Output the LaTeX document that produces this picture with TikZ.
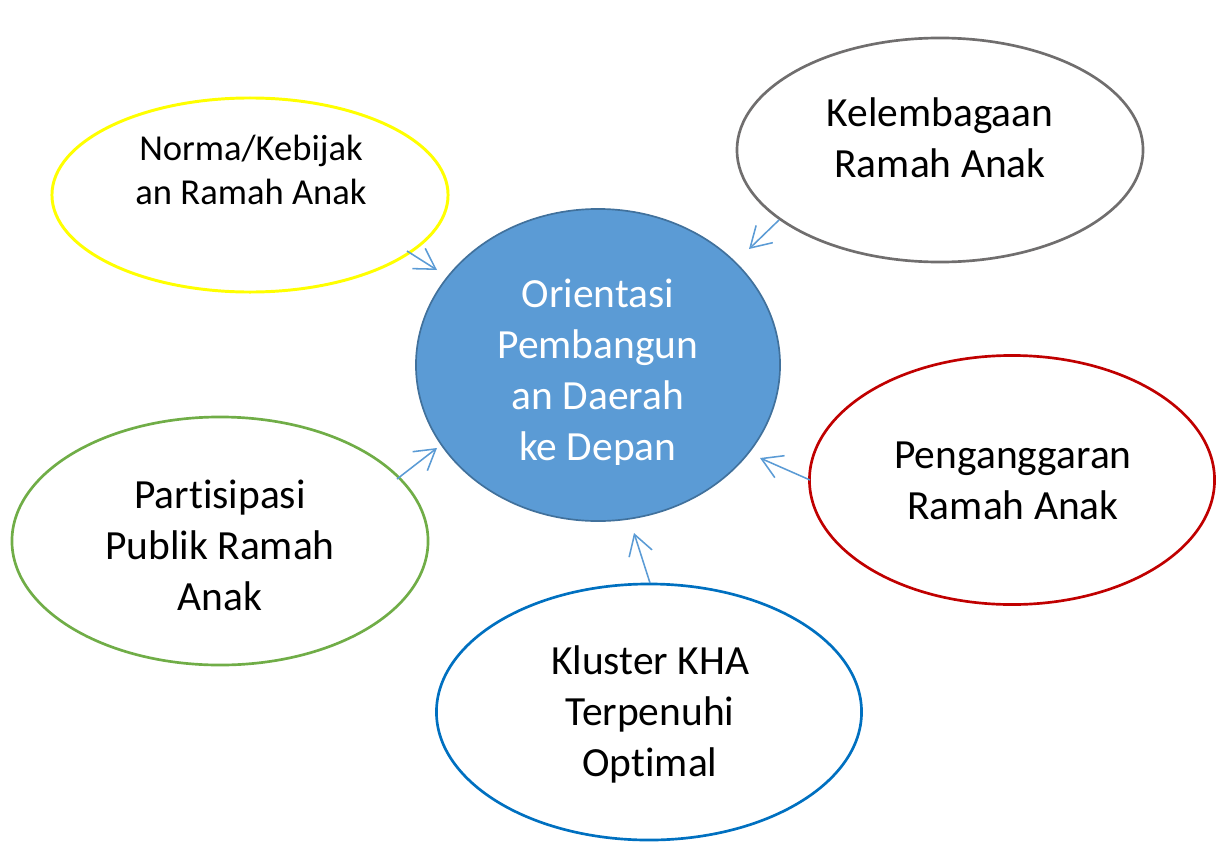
\documentclass[tikz,border=0pt]{standalone}
\usepackage{fontspec}
\setmainfont{Carlito}[Ligatures=NoCommon]
\usetikzlibrary{shapes.geometric,arrows.meta}

\definecolor{centrefill}{HTML}{5B9BD5}
\definecolor{centreline}{HTML}{41719C}
\definecolor{arrowblue}{HTML}{5B9BD5}
\definecolor{normayellow}{HTML}{FFFF00}
\definecolor{lembagagray}{HTML}{706E6E}
\definecolor{anggaranred}{HTML}{C00000}
\definecolor{publikgreen}{HTML}{70AD47}
\definecolor{klusterblue}{HTML}{0070C0}

\tikzset{
  bubble/.style={ellipse, draw, line width=1.9pt, inner sep=0pt},
  bubbletext/.style={align=center, font=\fontsize{29.5}{36.3}\selectfont},
  arrowline/.style={draw=arrowblue, line width=1.1pt,
    -{Straight Barb[length=5mm,width=6mm]}}
}

\begin{document}
\begin{tikzpicture}[x=0.025cm, y=-0.025cm]
% Page frame (pixel grid of the reference)
\useasboundingbox (0,0) rectangle (1227,841);
\clip (0,0) rectangle (1227,841);

% Centre bubble
\node[ellipse, draw=centreline, fill=centrefill, line width=1.2pt, inner sep=0pt,
  minimum width=9.1cm, minimum height=7.8cm] (orientasi) at (598,365) {};
\begin{scope}
\clip (420,260) rectangle (780,464);
\node[bubbletext, text=white] (orientasitext) at (598,373)
  {Orientasi\\Pembangun\\an Daerah\\ke Depan};
\end{scope}

% Outer bubbles
\node[bubble, draw=normayellow, line width=2.1pt,
  minimum width=9.9cm, minimum height=4.85cm] (norma) at (250,195) {};
\node[bubbletext, font=\fontsize{26}{31.3}\selectfont] (normatext) at (251,170)
  {Norma/Kebijak\\an Ramah Anak};

\node[bubble, draw=lembagagray,
  minimum width=10.15cm, minimum height=5.6cm] (lembaga) at (940,150) {};
\node[bubbletext] (lembagatext) at (940,138) {Kelembagaan\\Ramah Anak};

\node[bubble, draw=anggaranred,
  minimum width=10.125cm, minimum height=6.225cm] (anggaran) at (1012,480) {};
\node[bubbletext] (anggarantext) at (1013,481) {Penganggaran\\Ramah Anak};

\node[bubble, draw=publikgreen,
  minimum width=10.4cm, minimum height=6.2cm] (publik) at (220,541) {};
\node[bubbletext] (publiktext) at (220,545) {Partisipasi\\Publik Ramah\\Anak};

\node[bubble, draw=klusterblue,
  minimum width=10.625cm, minimum height=6.4cm] (kluster) at (649,712) {};
\node[bubbletext] (klustertext) at (650,714) {Kluster KHA\\Terpenuhi\\Optimal};

% Arrow ends
\coordinate (normaout) at (407,251);
\coordinate (normain) at (437,270);
\coordinate (lembagaout) at (779,220);
\coordinate (lembagain) at (749,249);
\coordinate (publikout) at (397,479);
\coordinate (publikin) at (437,448);
\coordinate (anggaranout) at (810,480);
\coordinate (anggaranin) at (760,458);
\coordinate (klusterout) at (650,583);
\coordinate (klusterin) at (634,533);

% Arrows into the centre
\draw[arrowline] (normaout) -- (normain);
\draw[arrowline] (lembagaout) -- (lembagain);
\draw[arrowline] (publikout) -- (publikin);
\draw[arrowline] (anggaranout) -- (anggaranin);
\draw[arrowline] (klusterout) -- (klusterin);
\end{tikzpicture}
\end{document}
